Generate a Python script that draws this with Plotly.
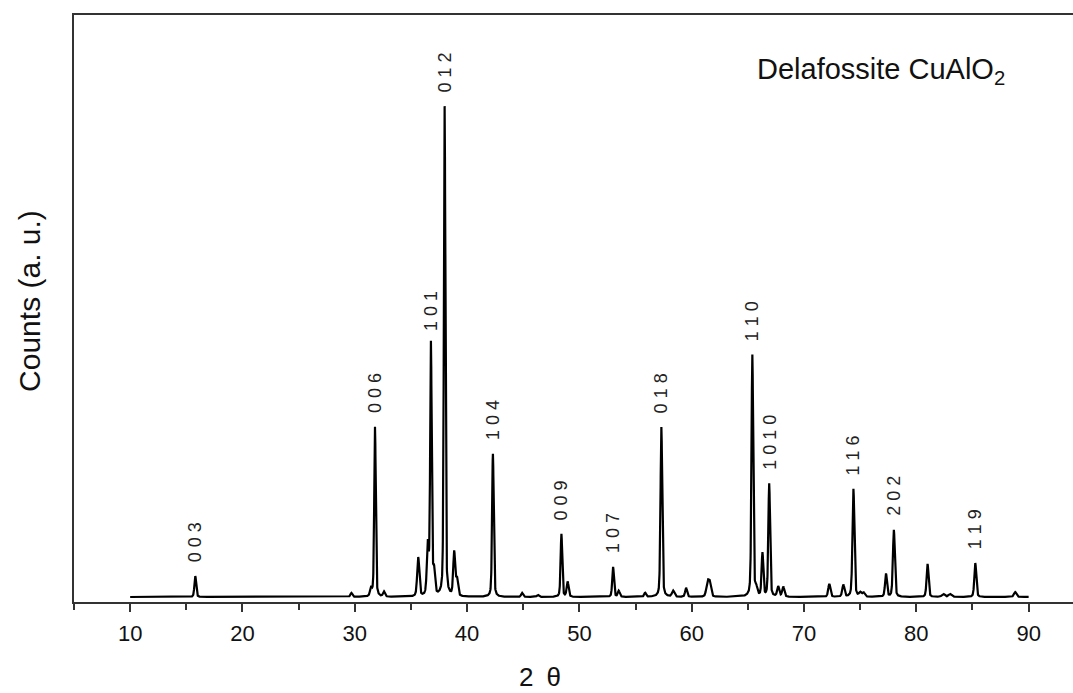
import numpy as np
import plotly.graph_objects as go

# Peak table: position (2theta, deg), height (a.u.), FWHM (deg)
peak_pos = [15.8, 29.7, 31.45, 31.8, 32.6, 35.65, 36.5, 36.78, 37.05, 38.0,
            38.85, 39.1, 42.3, 44.9, 46.3, 48.4, 48.95, 53.0, 53.5, 55.85,
            57.3, 58.35, 59.5, 61.4, 61.6, 65.4, 65.75, 66.3, 66.9, 67.7,
            68.15, 72.25, 73.5, 74.4, 75.0, 75.3, 77.3, 78.0, 81.0, 82.4,
            83.0, 85.25, 88.8]
peak_height = [21, 4, 8, 170, 5, 39, 50, 252, 24, 490,
               44, 17, 143, 4, 2, 63, 15, 30, 6, 4,
               170, 6, 9, 14, 14, 242, 7, 43, 113, 10,
               10, 13, 12, 108, 4, 4, 23, 67, 33, 3,
               3, 34, 5]
peak_fwhm = [0.18, 0.2, 0.2, 0.16, 0.2, 0.22, 0.2, 0.16, 0.2, 0.16,
             0.2, 0.2, 0.17, 0.2, 0.2, 0.17, 0.2, 0.18, 0.2, 0.2,
             0.18, 0.25, 0.2, 0.25, 0.25, 0.18, 0.2, 0.18, 0.18, 0.22,
             0.22, 0.22, 0.22, 0.2, 0.25, 0.25, 0.2, 0.2, 0.2, 0.3,
             0.3, 0.2, 0.25]

# Miller index labels
hkl_labels = ["0 0 3", "0 0 6", "1 0 1", "0 1 2", "1 0 4", "0 0 9", "1 0 7",
              "0 1 8", "1 1 0", "1 0 1 0", "1 1 6", "2 0 2", "1 1 9"]
hkl_pos = [15.8, 31.8, 36.78, 38.0, 42.3, 48.4, 53.0, 57.3, 65.4, 66.9, 74.4, 78.0, 85.25]
hkl_height = [21, 170, 252, 490, 143, 63, 30, 170, 242, 113, 108, 67, 34]

x_ticks = [10, 20, 30, 40, 50, 60, 70, 80, 90]

# Build measured-like profile from the peak table (pseudo-Voigt sum)
tt = np.arange(10.0, 90.0001, 0.01)
counts = np.zeros_like(tt)
eta = 0.35
for p, h, w in zip(peak_pos, peak_height, peak_fwhm):
    g = np.exp(-4 * np.log(2) * ((tt - p) / w) ** 2)
    l = 1.0 / (1.0 + 4 * ((tt - p) / w) ** 2)
    counts += h * ((1 - eta) * g + eta * l)

FONT = "Liberation Sans, Arial, sans-serif"

fig = go.Figure()
fig.add_trace(go.Scatter(x=tt, y=counts, mode="lines",
                         line=dict(color="black", width=2.2), hoverinfo="skip",
                         showlegend=False))

for txt, p, h in zip(hkl_labels, hkl_pos, hkl_height):
    fig.add_annotation(x=p, y=h, text=txt, textangle=-90, showarrow=False,
                       xanchor="center", yanchor="bottom", yshift=12,
                       font=dict(family=FONT, size=18, color="#222"))

fig.add_annotation(xref="paper", yref="paper", x=0.682, y=0.905,
                   text="Delafossite CuAlO<sub>2</sub>", showarrow=False,
                   xanchor="left", yanchor="middle",
                   font=dict(family=FONT, size=29, color="#111"))

fig.add_annotation(xref="paper", yref="paper", x=-0.044, y=0.513,
                   text="Counts (a. u.)", textangle=-90, showarrow=False,
                   xanchor="center", yanchor="middle",
                   font=dict(family=FONT, size=30, color="#111"))
fig.add_annotation(xref="paper", yref="paper", x=0.4665, y=-0.128,
                   text="2\u2002θ", showarrow=False,
                   xanchor="center", yanchor="middle",
                   font=dict(family=FONT, size=26, color="#111"))

fig.update_layout(
    width=1073, height=693,
    margin=dict(l=74, r=0, t=15, b=91),
    plot_bgcolor="white", paper_bgcolor="white",
    font=dict(family=FONT, color="#111"),
)
fig.update_xaxes(range=[5, 93.95], tickmode="array", tickvals=x_ticks,
                 ticks="outside", ticklen=8, tickwidth=1.5, tickcolor="#333",
                 ticklabelstandoff=3,
                 minor=dict(dtick=5, tick0=5, ticks="outside", ticklen=6,
                            tickwidth=1.5, tickcolor="#333"),
                 showline=True, linecolor="#333", linewidth=2, mirror=True,
                 showgrid=False, zeroline=False,
                 tickfont=dict(family=FONT, size=22, color="#111"))
fig.update_yaxes(range=[-5, 582], showticklabels=False, ticks="",
                 showline=True, linecolor="#333", linewidth=2, mirror=False,
                 showgrid=False, zeroline=False)

fig.write_html("out.html", config={"displayModeBar": False})

# remove the browser's default body margin so the figure sits at the page origin
with open("out.html", "r", encoding="utf-8") as f:
    html = f.read()
html = html.replace("<head>", "<head><style>html,body{margin:0;padding:0;overflow:hidden;}</style>", 1)
with open("out.html", "w", encoding="utf-8") as f:
    f.write(html)
